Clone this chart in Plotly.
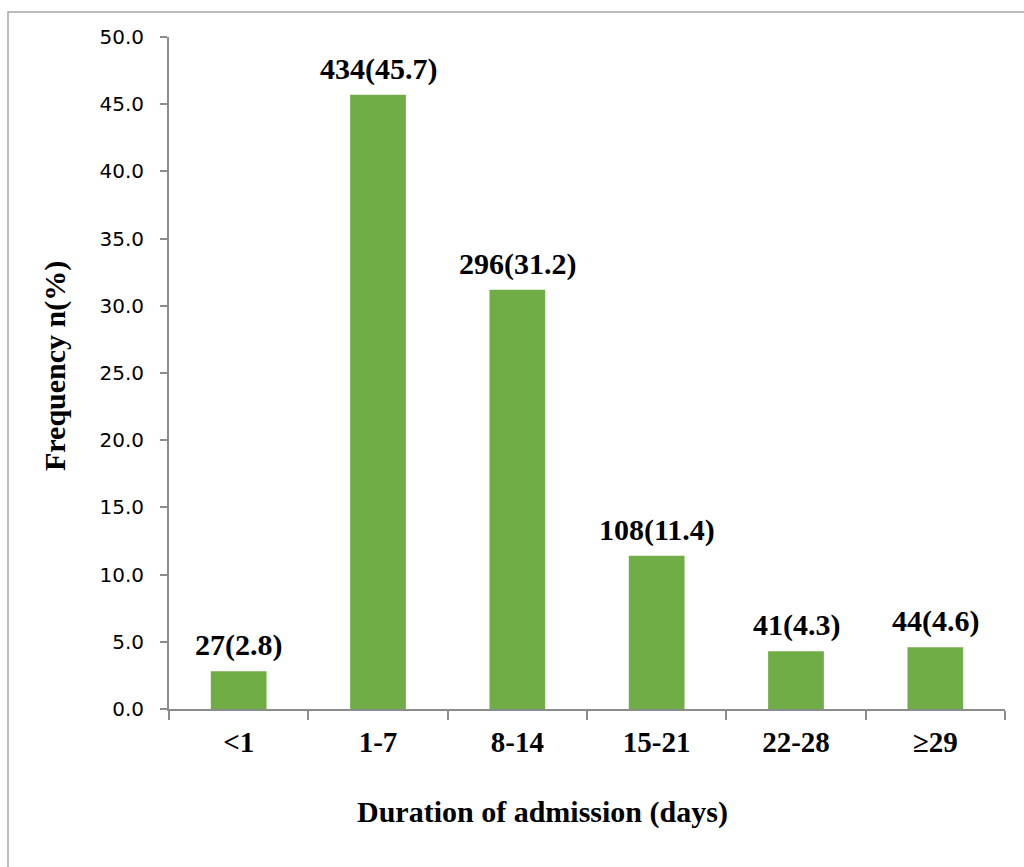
import plotly.graph_objects as go

# Length-of-stay groups and their counts / percentages
categories = ["<1", "1-7", "8-14", "15-21", "22-28", "\u226529"]
counts = [27, 434, 296, 108, 41, 44]
percents = [2.8, 45.7, 31.2, 11.4, 4.3, 4.6]
y_ticks = [0, 5, 10, 15, 20, 25, 30, 35, 40, 45, 50]

W, H = 1024, 867
L, R, T, B = 169, 19, 37, 158
plot_w = W - L - R
plot_h = H - T - B

GREEN = "#70AD47"
AXIS = "#8C8C8C"
SERIF = "Liberation Serif, Times New Roman, serif"
SANS = "DejaVu Sans, Verdana, sans-serif"

fig = go.Figure()
fig.add_trace(go.Bar(
    x=categories,
    y=percents,
    marker=dict(color=GREEN, line=dict(width=0)),
    width=0.4,
    hoverinfo="skip",
))

# Value labels "n(%)" above each bar
for cat, n, p in zip(categories, counts, percents):
    fig.add_annotation(
        x=cat, y=p, xref="x", yref="y",
        text=f"<b>{n}({p})</b>",
        showarrow=False, yanchor="bottom", yshift=7,
        font=dict(family=SERIF, size=30, color="black"),
    )

# Axis titles
fig.add_annotation(
    x=(542 - L) / plot_w, y=(H - B - 812) / plot_h, xref="paper", yref="paper",
    text="<b>Duration of admission (days)</b>", showarrow=False,
    xanchor="center", yanchor="middle",
    font=dict(family=SERIF, size=30, color="black"),
)
fig.add_annotation(
    x=(55 - L) / plot_w, y=(H - B - 366) / plot_h, xref="paper", yref="paper",
    text="<b>Frequency n(%)</b>", showarrow=False, textangle=-90,
    xanchor="center", yanchor="middle",
    font=dict(family=SERIF, size=30, color="black"),
)

# Outer chart border
fig.add_shape(
    type="rect", xref="paper", yref="paper",
    x0=(8 - L) / plot_w, x1=(1030 - L) / plot_w,
    y0=(H - B - 875) / plot_h, y1=(H - B - 12) / plot_h,
    line=dict(color="#A6A6A6", width=1.5), fillcolor="rgba(0,0,0,0)",
    layer="below",
)

fig.update_layout(
    width=W, height=H,
    margin=dict(l=L, r=R, t=T, b=B, autoexpand=False),
    paper_bgcolor="white", plot_bgcolor="white",
    showlegend=False,
    bargap=0.6,
)
fig.update_xaxes(
    type="category",
    showline=True, linecolor=AXIS, linewidth=2,
    ticks="outside", tickson="boundaries", ticklen=9, tickcolor=AXIS, tickwidth=1.5,
    showgrid=False, zeroline=False,
    tickfont=dict(family=SERIF, size=29, color="black"),
    ticklabelstandoff=6,
    tickprefix="<b>", ticksuffix="</b>",
)
fig.update_yaxes(
    range=[0, 50],
    tickvals=y_ticks,
    ticktext=[f"{v:.1f}" for v in y_ticks],
    showline=True, linecolor=AXIS, linewidth=2,
    ticks="outside", ticklen=7, tickcolor=AXIS, tickwidth=1.5,
    showgrid=False, zeroline=False,
    tickfont=dict(family=SANS, size=20, color="black"),
    ticklabelstandoff=12,
)

fig.write_html("out.html")
